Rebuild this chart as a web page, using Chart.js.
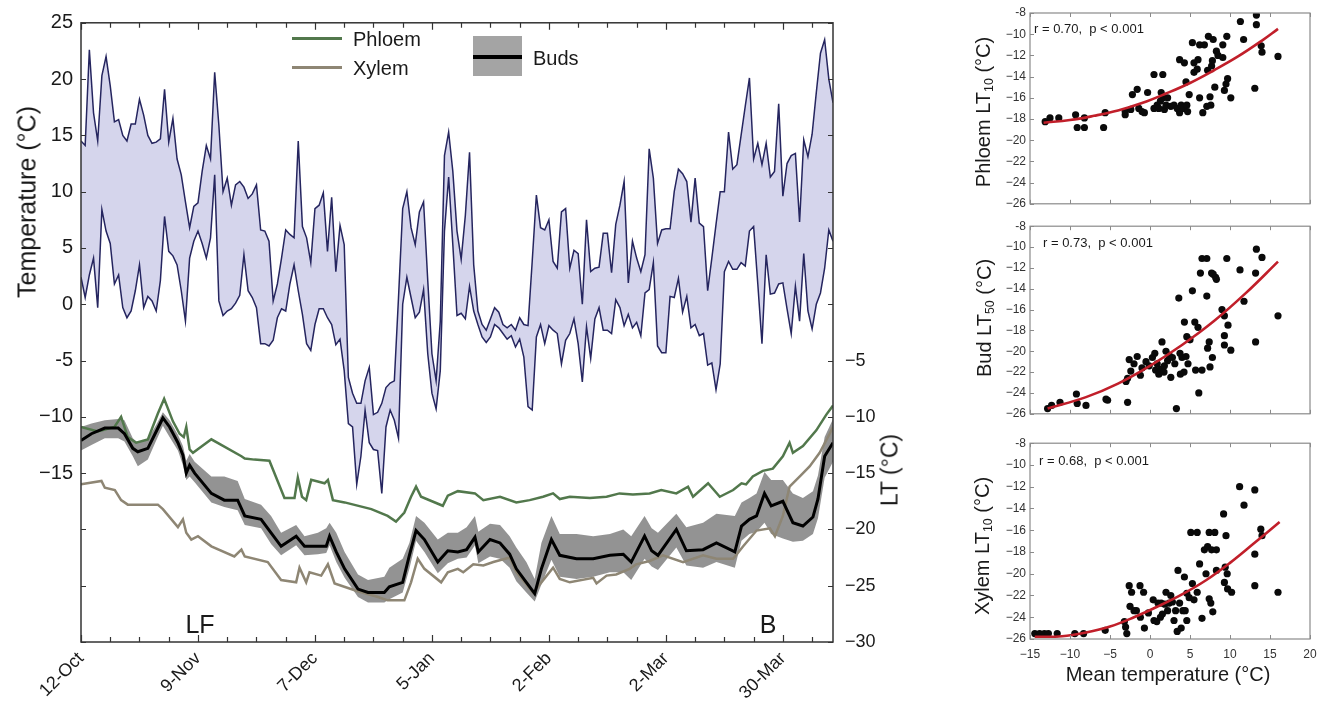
<!DOCTYPE html>
<html>
<head>
<meta charset="utf-8">
<title>Temperature and lethal temperatures</title>
<script src="https://cdn.jsdelivr.net/npm/chart.js@4.4.1/dist/chart.umd.min.js"></script>
<style>
  body { margin: 0; background: #fff; font-family: "Liberation Sans", Arial, sans-serif; }
  #wrap { position: relative; width: 1317px; height: 703px; overflow: hidden; }
  canvas { position: absolute; }
  .lbl { position: absolute; white-space: pre; color: #1a1a1a; line-height: 1; }
  .lbl sub { font-size: 62%; vertical-align: -0.25em; }
</style>
</head>
<body>
<div id="wrap">
  <canvas id="main" width="900" height="703" style="left:0;top:0"></canvas>
  <canvas id="sc1" width="377" height="215" style="left:940px;top:0"></canvas>
  <canvas id="sc2" width="377" height="210" style="left:940px;top:215px"></canvas>
  <canvas id="sc3" width="377" height="271" style="left:940px;top:432px"></canvas>
</div>
<script>
// daily air temperature, day 0 = 12-Oct
const tMax = [
  14.5, 14.1, 22.6, 17.0, 14.5, 20.3, 22.0, 19.4, 16.2, 16.4,
  15.0, 14.5, 16.0, 16.0, 18.2, 16.8, 15.0, 14.3, 14.4, 14.7,
  19.1, 14.4, 16.5, 12.9, 11.5, 9.1, 6.8, 8.7, 9.0, 11.8,
  14.1, 12.9, 20.6, 15.9, 10.0, 11.2, 8.8, 10.6, 10.9, 10.4,
  9.4, 9.8, 10.6, 6.6, 6.5, 5.6, 0.3, 1.8, 4.1, 6.6,
  6.2, 5.9, 14.5, 6.9, 5.9, 3.7, 8.5, 8.8, 9.9, 4.7,
  9.5, 2.9, 7.0, 5.3, -6.5, -7.9, -8.8, -8.8, -6.8, -5.6,
  -9.8, -9.6, -8.8, -7.4, -7.0, -6.8, 0.6, 8.5, 10.0, 6.8,
  5.3, 8.2, 9.1, 2.1, -4.4, -6.8, -1.5, 13.2, 15.3, 11.8,
  6.5, 4.0, 7.9, 13.5, 3.5, -0.6, -1.8, -2.3, -1.3, -0.3,
  -0.7, -1.8, -2.1, -1.8, -2.3, -1.2, -1.8, -1.9, 3.8, 9.7,
  6.8, 6.6, 7.5, 3.8, 3.2, 8.2, 8.5, 3.2, 4.8, 4.5,
  0.0, 7.5, 2.9, 3.2, 3.3, 6.3, 6.3, 2.8, 7.1, 8.8,
  10.9, 1.9, 5.6, 4.1, 2.9, 4.4, 13.8, 11.2, 5.4, 6.6,
  6.7, 6.7, 10.0, 12.0, 11.6, 10.9, 7.3, 11.2, 7.2, 6.9,
  1.2, 4.1, 7.1, 10.0, 10.0, 15.3, 12.0, 12.4, 15.0, 17.6,
  20.1, 12.9, 14.3, 12.4, 14.3, 11.3, 11.8, 17.8, 9.6, 12.5,
  13.2, 13.4, 7.3, 14.6, 13.1, 15.1, 18.8, 22.3, 23.5, 20.0,
  17.9
];
const tMin = [
  2.4, 0.6, 2.6, 4.1, -0.3, 8.4, 6.5, 5.4, 1.8, 2.6,
  -0.3, -1.2, -0.6, 1.2, 3.5, -0.3, 0.7, 0.3, -0.6, 2.1,
  7.8, 4.7, 4.3, 3.5, 1.2, -1.5, 4.1, 5.6, 6.5, 5.4,
  4.1, 5.9, 11.5, 0.3, -1.0, -0.6, -0.4, 0.1, 0.8, 4.4,
  1.2, 0.6, -0.3, -3.5, -3.5, -3.7, -3.2, -1.2, -0.4, -0.6,
  1.8, 3.5, 1.2, -0.9, -3.5, -4.1, -1.8, -0.4, -0.4, -1.2,
  -1.8, -3.6, -3.1, -5.9, -10.6, -10.9, -16.0, -13.5, -9.4, -12.3,
  -12.9, -13.0, -16.8, -10.9, -9.4, -10.3, -11.9, 0.0, 2.4, 0.6,
  -1.2, -0.7, 1.3, -4.4, -7.9, -9.3, -5.9, 6.5, 11.3, 5.3,
  -1.0, -0.8, -1.3, 1.6, -0.6, -1.8, -2.9, -3.4, -2.9, -1.8,
  -2.1, -2.6, -3.1, -2.8, -3.8, -3.1, -4.7, -9.1, -9.4, -2.9,
  -1.8, -3.5, -1.9, -2.3, -2.6, -5.3, -3.2, -2.6, -1.3, -3.5,
  -6.9, -2.0, -4.8, -1.3, -0.3, -2.3, -2.3, -2.6, 0.4, -0.3,
  -1.9, -0.9, -2.1, -1.6, -2.8, 1.0, 1.3, 3.7, -3.7, -4.3,
  -4.3, 0.7, 0.6, 2.3, -0.7, 0.7, -2.1, -1.8, -2.8, -2.6,
  -5.4, -5.2, -7.6, -5.3, 2.9, 3.8, 3.1, 3.1, 3.7, 3.4,
  6.5, 6.9, 1.8, -3.5, 4.4, 0.9, 1.0, 1.8, 1.9, -0.4,
  -2.6, 1.6, -1.5, 4.5, -0.6, -2.2, 0.0, 1.0, 3.2, 6.6,
  5.6
];

// phloem LT10 through the season
const phloemDays = [0, 4, 8, 9.6, 11.2, 13.2, 16, 18.4, 19.9, 22, 23.6, 24.6, 25.2, 26, 26.8, 31.2, 38.4, 39.2, 41.5, 45.1,
  48.7, 51.1, 51.9, 52.9, 53.9, 55.1, 58.3, 59.1, 60.3, 63.1, 69.5, 73.4, 75.4, 77.4, 79, 80.2, 81.4, 86.6, 87.8, 90.2,
  94.3, 96.3, 100.3, 104.2, 107.4, 110.6, 113, 114.6, 117, 121.8, 125.8, 128.9, 132.1, 136.1, 138.9, 142.5, 145.3, 146.5,
  150.1, 152.9, 156.1, 158.1, 159.2, 160.8, 163.2, 165.6, 168, 169.6, 170.4, 172.8, 176, 178.4, 180];
const phloemLT = [-10.9, -11.3, -10.9, -10.0, -11.8, -12.3, -12.0, -9.7, -8.4, -10.4, -11.5, -11.8, -10.9, -12.9, -13.2, -12.0, -13.5, -13.7, -13.8, -13.9,
  -17.2, -17.2, -15.4, -17.1, -17.4, -15.6, -15.9, -15.6, -17.4, -17.6, -18.2, -18.8, -19.3, -18.5, -17.1, -16.2, -17.1, -17.9, -17.0, -16.6,
  -16.8, -17.4, -17.1, -17.6, -17.4, -17.1, -16.8, -17.3, -17.1, -17.2, -17.1, -16.8, -16.9, -16.8, -16.5, -16.8, -16.2, -17.1,
  -15.9, -17.1, -16.5, -15.9, -16.0, -15.3, -14.8, -14.6, -13.5, -12.3, -13.2, -12.6, -11.2, -9.8, -9.0];

// xylem LT10
const xylemDays = [0, 4.9, 5.7, 8.1, 9.6, 11.2, 18.4, 19.6, 23.2, 24.4, 25.2, 26.4, 28, 31.2, 36.7, 38.4, 39.2, 44.7, 47.9, 51.5,
  52.3, 53.9, 54.7, 57.5, 59.1, 60.7, 65.5, 71.1, 73.4, 77.4, 79, 80.6, 82.2, 86.2, 87.8, 90.2, 91.5, 93.9, 96.3, 98.7,
  102.6, 104.2, 108.2, 110.2, 113, 114.6, 117, 122.6, 123.4, 125.8, 128.1, 131.3, 132.9, 136.1, 139.3, 144.1, 148.9, 152.1,
  156.1, 158.5, 161.7, 164.9, 166.1, 168, 169.6, 172, 174.4, 176.8, 179.2, 180];
const xylemLT = [-16.0, -15.7, -16.3, -16.5, -17.4, -17.8, -17.8, -18.2, -19.8, -19.1, -20.3, -20.9, -20.6, -21.5, -22.4, -21.8, -22.4, -22.9, -24.5, -24.7,
  -23.4, -24.7, -23.8, -24.1, -23.1, -24.8, -25.4, -26.0, -26.3, -26.3, -24.7, -22.6, -23.5, -24.7, -23.8, -23.5, -23.8, -23.1, -23.2, -22.9,
  -22.5, -23.8, -25.6, -24.7, -23.4, -24.4, -24.7, -24.3, -24.8, -24.1, -24.0, -23.5, -23.1, -22.8, -22.3, -22.9, -22.3, -22.6,
  -22.6, -21.5, -20.1, -19.9, -20.6, -18.8, -16.2, -15.3, -14.4, -13.2, -11.5, -10.9];

// bud LT50 with its spread
const budDays = [0, 2.5, 5.7, 8.9, 10.4, 12.4, 13.6, 16, 18, 19.6, 21.2, 23.2, 24.4, 25.2, 26, 27.2, 31.2, 34.3, 37.5, 39.2,
  43.1, 45.5, 47.9, 51.5, 53.5, 56.7, 58.7, 59.5, 61.1, 63.1, 66.3, 68.7, 72.6, 73.8, 77, 78.6, 80.2, 82.2, 85.4, 87.8,
  90.2, 92.3, 94.3, 95.1, 97.9, 100.3, 102.6, 104.2, 106.6, 108.6, 110.2, 112.6, 114.6, 118.6, 122.6, 126.6, 129.8, 131.7,
  134.9, 136.6, 138.1, 142.5, 144.9, 148.9, 152.1, 156.5, 158.1, 160, 161.7, 163.6, 165.2, 168, 170.4, 172.8, 175.2, 176.4, 178, 180];
const budLT = [-12.1, -11.5, -11.0, -11.0, -11.5, -12.8, -13.1, -12.8, -11.3, -10.1, -10.9, -12.3, -13.4, -15.0, -14.3, -15.0, -16.8, -17.4, -17.4, -18.8,
  -19.1, -20.3, -21.5, -20.6, -21.5, -21.5, -21.5, -20.6, -22.0, -23.5, -25.3, -25.6, -25.6, -25.1, -24.7, -22.3, -20.1, -20.9, -22.9, -21.9,
  -22.0, -21.8, -20.7, -22.0, -20.9, -21.2, -22.2, -23.5, -24.7, -25.7, -23.5, -20.9, -22.3, -22.6, -22.6, -22.3, -22.2, -22.9,
  -20.6, -21.9, -22.3, -20.0, -21.9, -21.8, -21.2, -22.0, -19.7, -19.1, -18.8, -16.8, -17.9, -17.5, -19.4, -19.7, -18.9, -17.3, -13.5, -12.3];
const budHigh = [-10.9, -10.6, -10.3, -10.2, -10.3, -11.9, -12.3, -12.0, -10.7, -9.6, -10.3, -11.6, -12.6, -13.9, -13.3, -14.0, -15.3, -15.3, -15.7, -17.3,
  -17.8, -18.8, -20.3, -19.6, -20.6, -20.3, -19.9, -19.4, -20.3, -22.0, -24.0, -24.5, -24.2, -23.4, -22.6, -21.2, -18.8, -19.4, -20.9, -20.3,
  -20.3, -19.8, -18.8, -20.2, -19.5, -19.6, -20.6, -21.6, -22.9, -24.4, -21.2, -18.8, -20.4, -20.4, -20.6, -20.4, -20.0, -20.6,
  -18.8, -19.9, -20.3, -18.6, -19.8, -19.4, -18.6, -18.8, -17.6, -17.2, -16.8, -14.9, -15.6, -15.6, -16.8, -17.2, -16.6, -15.2, -11.8, -10.2];
const budLow = [-13.0, -12.5, -11.9, -11.9, -12.2, -13.5, -14.4, -13.8, -12.1, -10.8, -11.8, -13.0, -14.3, -15.6, -15.3, -15.8, -17.6, -18.0, -18.3, -19.6,
  -19.9, -21.3, -22.3, -21.4, -22.3, -22.2, -22.1, -21.4, -22.9, -24.3, -26.0, -26.5, -26.5, -26.2, -25.6, -23.5, -21.0, -22.0, -23.9, -23.0,
  -22.6, -22.5, -21.4, -23.0, -22.4, -22.6, -23.4, -24.6, -25.6, -26.4, -24.9, -22.7, -24.2, -24.4, -24.2, -23.8, -23.8, -24.5,
  -22.6, -23.3, -23.6, -21.6, -23.2, -23.4, -22.9, -23.4, -21.0, -20.4, -20.2, -19.4, -20.4, -20.8, -21.1, -21.0, -20.4, -19.0, -15.4, -14.0];

const dateLabels = ['12-Oct', '9-Nov', '7-Dec', '5-Jan', '2-Feb', '2-Mar', '30-Mar'];

// scatter panels: mean temperature vs LT
const phloemT = [-13.1, -12.5, -11.4, -9.3, -9.1, -8.2, -8.2, -5.8, -5.6, -3.1, -3.1, -2.4, -2.2, -1.6, -1.4, -1.0, -0.7, -0.3, 0.5, 1.6,
  0.5, 0.9, 1.1, 1.3, 1.4, 1.6, 1.8, 2.0, 2.2, 2.6, 3.0, 3.4, 3.7, 3.9, 4.2, 4.6, 4.7, 4.9, 4.5, 3.7,
  4.3, 5.3, 5.5, 5.5, 5.9, 6.2, 6.0, 6.2, 6.6, 6.8, 7.1, 7.2, 7.3, 7.5, 7.6, 7.7, 7.8, 7.9, 8.1, 8.3,
  8.5, 9.1, 9.1, 9.3, 9.5, 9.6, 9.7, 10.1, 11.3, 11.7, 13.1, 13.3, 13.3, 13.9, 14.0, 16.0];
const phloemPtLT = [-18.25, -17.9, -17.9, -17.6, -18.8, -17.9, -18.8, -18.8, -17.4, -17.6, -17.3, -17.1, -15.7, -15.2, -17.0, -17.3, -17.4, -15.5, -13.8, -13.8,
  -17.0, -16.7, -17.0, -16.3, -15.5, -16.0, -17.1, -16.7, -16.0, -16.8, -16.7, -17.0, -17.4, -16.7, -17.0, -16.7, -17.3, -15.7, -14.5, -12.4,
  -12.7, -10.8, -12.7, -13.6, -13.3, -11.0, -12.4, -16.0, -17.4, -11.0, -16.8, -13.4, -10.2, -15.9, -16.7, -13.0, -12.5, -10.5, -15.0, -11.6,
  -12.0, -12.2, -11.0, -15.3, -14.7, -10.2, -14.2, -16.0, -8.8, -10.5, -15.1, -8.2, -9.1, -11.1, -11.7, -12.1];
const phloemFitT = [-13.3, -10, -7, -4, -1, 2, 5, 8, 11, 14, 16];
const phloemFitLT = [-18.35, -18.1, -17.7, -17.2, -16.5, -15.6, -14.6, -13.4, -12.1, -10.6, -9.5];

const budT = [-12.8, -12.3, -11.25, -9.2, -9.1, -8.0, -5.5, -5.3, -3.0, -2.8, -2.8, -2.6, -2.4, -2.0, -1.6, -1.2, -1.0, -0.5, -0.1, 0.3,
  0.6, 0.7, 0.9, 1.1, 1.4, 1.5, 1.75, 1.8, 2.0, 2.2, 2.4, 2.6, 2.8, 3.1, 3.3, 3.6, 3.75, 3.8, 4.0, 4.25,
  4.3, 4.5, 4.6, 4.75, 5.0, 5.3, 5.6, 5.7, 6.0, 6.1, 6.3, 6.5, 6.5, 7.1, 7.1, 7.2, 7.4, 7.5, 7.7, 7.8,
  7.9, 8.2, 8.3, 9.0, 9.3, 9.3, 9.3, 9.6, 9.75, 10.1, 11.25, 11.75, 13.2, 13.2, 13.3, 14.0, 16.0];
const budPtLT = [-25.5, -25.2, -24.9, -24.1, -25.0, -25.2, -24.6, -24.7, -22.9, -22.6, -24.9, -20.8, -21.9, -21.2, -20.5, -22.3, -21.6, -21.0, -21.4, -20.6,
  -20.2, -21.8, -21.2, -22.2, -21.7, -19.1, -22.0, -21.4, -20.0, -20.9, -20.4, -22.5, -20.6, -21.2, -25.5, -14.9, -20.2, -22.2, -20.6, -22.0,
  -17.2, -20.5, -18.6, -21.2, -18.9, -14.2, -17.2, -21.8, -17.7, -24.0, -12.5, -21.8, -11.1, -11.1, -14.7, -19.7, -19.1, -21.5, -12.5, -20.6,
  -12.6, -12.9, -13.1, -16.0, -18.5, -19.4, -16.6, -11.1, -17.5, -19.9, -12.2, -15.2, -19.1, -12.5, -10.2, -11.0, -16.6];
const budFitT = [-12.8, -8, -4, 0, 4, 8, 12, 16];
const budFitLT = [-25.5, -24.4, -23.1, -21.4, -19.4, -17.1, -14.4, -11.4];

const xylemT = [-14.4, -13.8, -13.2, -12.7, -11.6, -9.4, -8.3, -5.6, -3.2, -3.05, -2.9, -2.6, -2.5, -2.3, -2.0, -1.7, -1.25, -1.2, -0.8, -0.7,
  -0.2, 0.4, 0.5, 0.85, 1.0, 1.3, 1.4, 1.55, 1.85, 2.0, 2.2, 2.4, 2.6, 2.8, 3.0, 3.2, 3.4, 3.5, 3.7, 3.9,
  4.1, 4.3, 4.4, 4.6, 4.6, 4.9, 5.1, 5.3, 5.5, 5.9, 5.9, 6.2, 6.5, 6.8, 7.0, 7.2, 7.4, 7.4, 7.6, 7.7,
  7.85, 8.1, 8.3, 8.3, 9.2, 9.3, 9.4, 9.5, 9.65, 9.7, 10.2, 11.2, 11.75, 13.1, 13.1, 13.1, 13.85, 14.0, 16.0];
const xylemPtLT = [-25.5, -25.5, -25.5, -25.5, -25.5, -25.5, -25.5, -25.2, -24.4, -24.9, -25.5, -21.1, -23.0, -21.7, -23.4, -23.4, -21.1, -24.0, -21.7, -25.0,
  -23.6, -22.4, -24.3, -24.4, -22.7, -24.0, -22.7, -23.7, -22.8, -21.7, -23.4, -22.7, -22.0, -22.6, -24.3, -23.4, -25.3, -19.7, -22.7, -25.0,
  -23.4, -20.3, -23.4, -21.8, -24.3, -22.2, -16.2, -20.9, -22.4, -16.2, -21.7, -19.1, -24.1, -17.8, -20.0, -17.5, -16.2, -22.3, -22.7, -17.8,
  -23.5, -16.2, -17.8, -19.7, -14.5, -20.8, -19.4, -16.5, -20.0, -21.4, -21.7, -12.0, -13.7, -12.3, -18.2, -21.1, -15.9, -16.5, -21.7];
const xylemFitT = [-14.4, -11, -8, -5, -2, 1, 4, 7, 10, 13, 16.2];
const xylemFitLT = [-25.8, -25.75, -25.4, -24.85, -24.0, -23.0, -21.9, -20.6, -19.0, -17.2, -15.25];

const FONT = '"Liberation Sans", Arial, sans-serif';
const NAVY = '#25255f';
const LAVENDER = 'rgb(213,213,236)';
const GREEN = '#52784c';
const TAN = '#8e8674';
const BAND = 'rgba(105,105,105,0.72)';
const RED = '#c11f2a';

const pts = (xs, ys) => xs.map((x, i) => ({ x, y: ys[i] }));
const daily = arr => arr.map((y, i) => ({ x: i, y }));
const minus = v => (v < 0 ? '\u2212' + Math.abs(v) : String(v));

// frame with inward tick marks on every side
const frameTicks = {
  id: 'frameTicks',
  afterDraw(chart, args, o) {
    const { ctx, chartArea: a } = chart;
    const xs = chart.scales.x, ys = chart.scales.y;
    ctx.save();
    ctx.strokeStyle = o.color;
    ctx.lineWidth = o.width;
    ctx.strokeRect(a.left, a.top, a.right - a.left, a.bottom - a.top);
    ctx.lineWidth = o.tickWidth;
    ctx.beginPath();
    xs.ticks.forEach(t => {
      const px = Math.round(xs.getPixelForValue(t.value)) + 0.5;
      const len = o.major && o.major(t.value) ? o.len + 2 : o.len;
      ctx.moveTo(px, a.bottom); ctx.lineTo(px, a.bottom - len);
      ctx.moveTo(px, a.top); ctx.lineTo(px, a.top + len);
    });
    ys.ticks.forEach(t => {
      const py = Math.round(ys.getPixelForValue(t.value)) + 0.5;
      ctx.moveTo(a.left, py); ctx.lineTo(a.left + o.len, py);
      if (o.right) { ctx.moveTo(a.right, py); ctx.lineTo(a.right - o.len, py); }
    });
    ctx.stroke();
    ctx.restore();
  }
};

Chart.defaults.font.family = FONT;
Chart.defaults.color = '#1a1a1a';

const noGrid = { display: false, drawTicks: false };

new Chart(document.getElementById('main'), {
  type: 'line',
  data: {
    datasets: [
      { label: 'Buds', data: pts(budDays, budLT), borderColor: '#000', borderWidth: 3, pointRadius: 0, fill: false, order: 0 },
      { label: 'Phloem', data: pts(phloemDays, phloemLT), borderColor: GREEN, borderWidth: 2.5, pointRadius: 0, fill: false, order: 1 },
      { label: 'Xylem', data: pts(xylemDays, xylemLT), borderColor: TAN, borderWidth: 2.5, pointRadius: 0, fill: false, order: 2 },
      { label: 'Buds high', data: pts(budDays, budHigh), borderWidth: 0, pointRadius: 0, fill: false, order: 3 },
      { label: 'Buds low', data: pts(budDays, budLow), borderWidth: 0, pointRadius: 0, backgroundColor: BAND, fill: '-1', order: 4 },
      { label: 'Max', data: daily(tMax), borderColor: NAVY, borderWidth: 1.5, pointRadius: 0, fill: false, order: 5 },
      { label: 'Min', data: daily(tMin), borderColor: NAVY, borderWidth: 1.5, pointRadius: 0, backgroundColor: LAVENDER, fill: '-1', order: 6 }
    ]
  },
  options: {
    responsive: false,
    animation: false,
    layout: { padding: { top: 16, right: 0, left: 0, bottom: 0 } },
    plugins: {
      legend: { display: false },
      tooltip: { enabled: false },
      frameTicks: { color: '#333', width: 1.5, tickWidth: 1.2, len: 5, right: true, major: v => v % 28 === 0 }
    },
    scales: {
      x: {
        type: 'linear', min: 0, max: 180,
        grid: noGrid, border: { display: false },
        afterBuildTicks: s => { s.ticks = []; for (let d = 0; d <= 175; d += 7) s.ticks.push({ value: d }); },
        afterFit: s => { s.height = 61; },
        ticks: {
          autoSkip: false, minRotation: 45, maxRotation: 45, padding: 6,
          font: { size: 18 }, color: '#1a1a1a',
          callback: v => (v % 28 === 0 ? dateLabels[v / 28] : '')
        }
      },
      y: {
        min: -30, max: 25,
        grid: noGrid, border: { display: false },
        afterFit: s => { s.width = 81; },
        ticks: {
          stepSize: 5, padding: 8, font: { size: 20 }, color: '#1a1a1a',
          callback: v => (v >= -15 ? (v === -5 ? '-5' : minus(v)) : '')
        }
      },
      yr: {
        position: 'right', min: -30, max: 25,
        grid: noGrid, border: { display: false },
        afterFit: s => { s.width = 67; },
        ticks: {
          stepSize: 5, padding: 12, font: { size: 18 }, color: '#1a1a1a',
          callback: v => (v <= -5 ? minus(v) : '')
        }
      }
    }
  },
  plugins: [frameTicks]
});

function scatterPanel(id, t, lt, fitT, fitLT, opt) {
  new Chart(document.getElementById(id), {
    type: 'scatter',
    data: {
      datasets: [
        { type: 'line', data: pts(fitT, fitLT), borderColor: RED, borderWidth: 2.6, pointRadius: 0, tension: 0.4, fill: false, order: 0 },
        { data: pts(t, lt), backgroundColor: '#0a0a0a', borderWidth: 0, pointRadius: 3.6, order: 1 }
      ]
    },
    options: {
      responsive: false,
      animation: false,
      layout: { padding: { top: opt.top, right: 7, left: 0, bottom: 0 } },
      plugins: {
        legend: { display: false },
        tooltip: { enabled: false },
        frameTicks: { color: '#8a8a8a', width: 1.2, tickWidth: 1, len: 4, right: false }
      },
      scales: {
        x: {
          type: 'linear', min: -15, max: 20,
          grid: noGrid, border: { display: false },
          afterFit: s => { s.height = opt.bottom; s.paddingLeft = 0; s.paddingRight = 0; },
          ticks: {
            display: opt.xLabels, stepSize: 5, padding: 8, maxRotation: 0,
            font: { size: 12 }, color: '#333', callback: v => minus(v)
          }
        },
        y: {
          min: -26, max: -8,
          grid: noGrid, border: { display: false },
          afterFit: s => { s.width = 90; },
          ticks: {
            stepSize: 2, padding: 4, font: { size: 12 }, color: '#333',
            callback: v => (v === -8 ? '-8' : minus(v))
          }
        }
      }
    },
    plugins: [frameTicks]
  });
}

scatterPanel('sc1', phloemT, phloemPtLT, phloemFitT, phloemFitLT, { top: 13, bottom: 7, xLabels: false });
scatterPanel('sc2', budT, budPtLT, budFitT, budFitLT, { top: 8, bottom: 7, xLabels: false });
scatterPanel('sc3', xylemT, xylemPtLT, xylemFitT, xylemFitLT, { top: 11, bottom: 64, xLabels: true });

// text placed around the plots
const wrap = document.getElementById('wrap');
function label(html, x, y, size, how) {
  const el = document.createElement('div');
  el.className = 'lbl';
  el.innerHTML = html;
  el.style.left = x + 'px';
  el.style.top = y + 'px';
  el.style.fontSize = size + 'px';
  if (how === 'rot') el.style.transform = 'translate(-50%,-50%) rotate(-90deg)';
  else if (how === 'center') el.style.transform = 'translate(-50%,-50%)';
  else el.style.transform = 'translate(0,-50%)';
  wrap.appendChild(el);
}
function swatch(x, y, w, h, color) {
  const el = document.createElement('div');
  el.style.cssText = `position:absolute;left:${x}px;top:${y}px;width:${w}px;height:${h}px;background:${color}`;
  wrap.appendChild(el);
  return el;
}

label('Temperature (\u00b0C)', 27, 202, 25, 'rot');
label('LT (\u00b0C)', 890, 470, 23, 'rot');

swatch(292, 37, 50, 3, GREEN);
swatch(292, 66, 50, 3, TAN);
label('Phloem', 353, 39, 20);
label('Xylem', 353, 68, 20);
swatch(473, 36, 49, 40, '#a4a4a4');
swatch(473, 55, 49, 4, '#000');
label('Buds', 533, 58, 20);

label('LF', 200, 624, 25, 'center');
label('B', 768, 624, 25, 'center');

label('Phloem LT<sub>10</sub> (\u00b0C)', 984, 112, 20, 'rot');
label('Bud LT<sub>50</sub> (\u00b0C)', 985, 318, 20, 'rot');
label('Xylem LT<sub>10</sub> (\u00b0C)', 983, 546, 20, 'rot');
label('r = 0.70,  p &lt; 0.001', 1034, 28, 13);
label('r = 0.73,  p &lt; 0.001', 1043, 242, 13);
label('r = 0.68,  p &lt; 0.001', 1039, 460, 13);
label('Mean temperature (\u00b0C)', 1168, 674, 20, 'center');
</script>
</body>
</html>
